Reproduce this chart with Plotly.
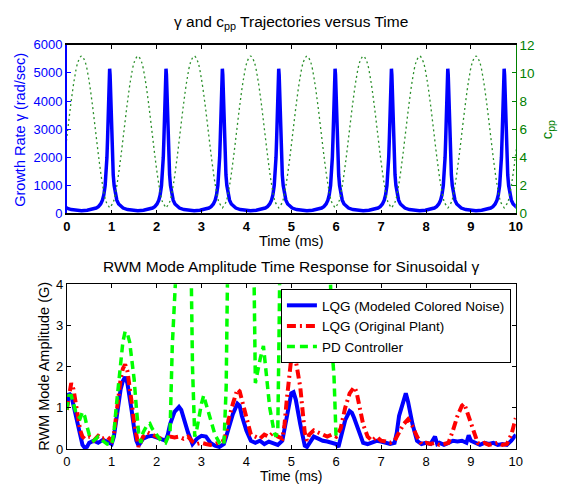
import plotly.graph_objects as go

# ---------------- data ----------------
# Top panel: growth rate gamma (rad/sec) - every peak has the same shape
gamma_peak_times = [-0.3, 0.955, 2.21, 3.465, 4.72, 5.975, 7.23, 8.485, 9.74]
gamma_offsets = [-0.6275, -0.5, -0.4, -0.3, -0.25, -0.2, -0.16, -0.13, -0.1, -0.08,
                 -0.06, -0.045, -0.03, -0.02, -0.01, 0.0, 0.01, 0.02, 0.03, 0.045,
                 0.06, 0.08, 0.1, 0.13, 0.16, 0.2, 0.25, 0.3, 0.4, 0.5, 0.6275]
gamma_profile = [98, 115, 139, 192, 243, 336, 473, 657, 990, 1370,
                 2000, 2720, 3680, 4370, 4930, 5150, 4930, 4370, 3680, 2720,
                 2000, 1370, 990, 657, 473, 336, 243, 192, 139, 115, 98]

# Top panel: c_pp (right axis) - every hump has the same shape
cpp_peak_times = [-0.925, 0.33, 1.585, 2.84, 4.095, 5.35, 6.605, 7.86, 9.115, 10.37]
cpp_offsets = [-0.6275, -0.549, -0.4706, -0.3922, -0.3138, -0.2353, -0.1569, -0.0784, 0.0,
               0.0784, 0.1569, 0.2353, 0.3138, 0.3922, 0.4706, 0.549, 0.6275]
cpp_profile = [0.4, 0.81, 1.98, 3.73, 5.8, 7.87, 9.62, 10.79, 11.2,
               10.79, 9.62, 7.87, 5.8, 3.73, 1.98, 0.81, 0.4]

# Bottom panel: RWM mode amplitude (G)
lqg_noise_t = [0.0, 0.05, 0.1, 0.15, 0.2, 0.25, 0.3, 0.35, 0.4, 0.45, 0.5, 0.6, 0.7, 0.8, 0.9,
               1.0, 1.05, 1.1, 1.15, 1.2, 1.25, 1.3, 1.35, 1.4, 1.45, 1.5, 1.55, 1.6, 1.7, 1.8,
               1.9, 2.0, 2.1, 2.2, 2.25, 2.3, 2.4, 2.5, 2.55, 2.6, 2.7, 2.8, 2.9, 3.0, 3.1,
               3.2, 3.3, 3.4, 3.5, 3.55, 3.6, 3.7, 3.8, 3.85, 3.9, 4.0, 4.1, 4.2, 4.3, 4.4,
               4.5, 4.6, 4.7, 4.8, 4.85, 4.9, 5.0, 5.05, 5.1, 5.2, 5.25, 5.3, 5.35, 5.4, 5.5,
               5.6, 5.7, 5.8, 5.9, 6.0, 6.05, 6.1, 6.2, 6.3, 6.35, 6.4, 6.5, 6.6, 6.7, 6.8,
               6.9, 7.0, 7.1, 7.2, 7.3, 7.35, 7.4, 7.5, 7.55, 7.6, 7.7, 7.8, 7.9, 8.0, 8.1,
               8.2, 8.25, 8.3, 8.4, 8.5, 8.6, 8.7, 8.8, 8.9, 8.95, 9.0, 9.1, 9.2, 9.3, 9.4,
               9.5, 9.6, 9.7, 9.8, 9.9, 10.0]
lqg_noise_v = [1.0, 1.35, 1.3, 1.05, 0.8, 0.55, 0.3, 0.1, 0.03, 0.05, 0.15, 0.2, 0.15, 0.22, 0.18,
               0.12, 0.3, 0.7, 1.1, 1.45, 1.65, 1.75, 1.6, 1.3, 0.9, 0.5, 0.2, 0.08, 0.25, 0.3,
               0.32, 0.28, 0.25, 0.2, 0.35, 0.6, 0.9, 1.02, 0.95, 0.75, 0.4, 0.12, 0.25, 0.32, 0.3,
               0.15, 0.08, 0.05, 0.12, 0.3, 0.5, 0.85, 1.1, 1.05, 0.8, 0.45, 0.2, 0.15, 0.2, 0.12,
               0.18, 0.15, 0.1, 0.2, 0.5, 0.85, 1.35, 1.38, 1.2, 0.6, 0.3, 0.08, 0.05, 0.15, 0.3,
               0.25, 0.2, 0.18, 0.15, 0.12, 0.05, 0.3, 0.7, 0.92, 0.88, 0.75, 0.45, 0.15, 0.12, 0.15,
               0.2, 0.18, 0.15, 0.12, 0.15, 0.4, 0.8, 1.2, 1.35, 1.15, 0.6, 0.2, 0.12, 0.15, 0.12,
               0.3, 0.12, 0.15, 0.1, 0.15, 0.2, 0.18, 0.2, 0.15, 0.33, 0.2, 0.15, 0.1, 0.15, 0.12,
               0.15, 0.1, 0.12, 0.1, 0.2, 0.35]

lqg_plant_t = [0.0, 0.05, 0.1, 0.15, 0.2, 0.25, 0.3, 0.35, 0.4, 0.5, 0.6, 0.7, 0.8, 0.9, 1.0,
               1.05, 1.1, 1.15, 1.2, 1.25, 1.3, 1.35, 1.4, 1.45, 1.5, 1.55, 1.6, 1.7, 1.8, 1.9,
               2.0, 2.1, 2.2, 2.3, 2.4, 2.5, 2.6, 2.7, 2.8, 2.9, 3.0, 3.1, 3.2, 3.3, 3.4,
               3.5, 3.55, 3.6, 3.7, 3.8, 3.85, 3.9, 4.0, 4.1, 4.2, 4.3, 4.4, 4.5, 4.6, 4.7,
               4.8, 4.85, 4.9, 5.0, 5.05, 5.1, 5.2, 5.25, 5.3, 5.35, 5.4, 5.5, 5.6, 5.7, 5.8,
               5.9, 6.0, 6.1, 6.2, 6.3, 6.4, 6.45, 6.5, 6.6, 6.7, 6.8, 6.9, 7.0, 7.1, 7.2,
               7.3, 7.4, 7.5, 7.6, 7.7, 7.8, 7.9, 8.0, 8.1, 8.2, 8.3, 8.4, 8.5, 8.6, 8.7,
               8.8, 8.85, 8.9, 9.0, 9.1, 9.15, 9.2, 9.3, 9.4, 9.5, 9.6, 9.7, 9.8, 9.9, 10.0]
lqg_plant_v = [0.95, 1.3, 1.6, 1.45, 1.1, 0.75, 0.45, 0.3, 0.25, 0.3, 0.2, 0.32, 0.25, 0.3, 0.2,
               0.35, 0.8, 1.3, 1.7, 1.95, 2.05, 1.9, 1.55, 1.1, 0.65, 0.3, 0.05, 0.3, 0.4, 0.35,
               0.3, 0.25, 0.2, 0.3, 0.28, 0.3, 0.25, 0.3, 0.18, 0.12, 0.15, 0.12, 0.1, 0.12, 0.15,
               0.2, 0.4, 0.7, 1.1, 1.45, 1.4, 1.2, 0.8, 0.35, 0.3, 0.25, 0.35, 0.3, 0.4, 0.3,
               0.25, 0.6, 1.2, 2.2, 2.35, 2.15, 1.5, 0.9, 0.4, 0.2, 0.35, 0.45, 0.4, 0.35, 0.3,
               0.35, 0.3, 0.5, 1.0, 1.35, 1.5, 1.4, 1.1, 0.6, 0.3, 0.2, 0.3, 0.2, 0.18, 0.15,
               0.2, 0.4, 0.6, 0.72, 0.55, 0.3, 0.12, 0.15, 0.12, 0.15, 0.1, 0.12, 0.15, 0.45, 0.8,
               1.05, 1.1, 0.95, 0.65, 0.35, 0.15, 0.12, 0.15, 0.1, 0.12, 0.15, 0.1, 0.12, 0.35, 0.75]

pd_t = [0.0, 0.05, 0.1, 0.15, 0.2, 0.25, 0.3, 0.35, 0.4, 0.45, 0.5, 0.6, 0.7, 0.8, 0.9,
        1.0, 1.05, 1.1, 1.15, 1.2, 1.25, 1.3, 1.35, 1.4, 1.45, 1.5, 1.55, 1.6, 1.65, 1.7,
        1.8, 1.85, 1.9, 2.0, 2.1, 2.2, 2.3, 2.35, 2.4, 2.6, 2.75, 2.8, 2.85, 2.9, 3.0,
        3.05, 3.1, 3.2, 3.3, 3.4, 3.5, 3.55, 3.6, 3.9, 4.15, 4.2, 4.25, 4.31, 4.38, 4.42,
        4.46, 4.52, 4.57, 4.62, 4.66, 4.7, 4.73, 4.76, 5.3, 5.84, 5.9, 5.95, 6.0]
pd_v = [0.95, 1.3, 1.3, 1.1, 0.9, 0.8, 0.75, 0.9, 0.8, 0.55, 0.35, 0.2, 0.3, 0.2, 0.12,
        0.1, 0.4, 1.0, 1.6, 2.2, 2.6, 2.85, 2.8, 2.6, 2.2, 1.7, 1.0, 0.4, 0.15, 0.4,
        0.6, 0.62, 0.5, 0.35, 0.2, 0.15, 0.4, 2.5, 6.0, 8.0, 6.0, 2.0, 0.3, 0.5, 1.1,
        1.3, 1.1, 0.7, 0.35, 0.15, 0.1, 1.5, 6.0, 8.0, 6.0, 1.6, 1.9, 2.2, 2.5, 2.1,
        1.6, 1.0, 0.7, 0.4, 0.3, 0.5, 3.0, 6.0, 8.0, 6.0, 2.5, 1.8, 0.2]

x_ticks = [0, 1, 2, 3, 4, 5, 6, 7, 8, 9, 10]

# ---------------- build series from the read values ----------------
gamma_t, gamma_v = [], []
for p in gamma_peak_times:
    for o, v in zip(gamma_offsets, gamma_profile):
        gamma_t.append(p + o)
        gamma_v.append(v)

cpp_t, cpp_v = [], []
for p in cpp_peak_times:
    for o, v in zip(cpp_offsets, cpp_profile):
        cpp_t.append(p + o)
        cpp_v.append(v)

W, H = 564, 488
def px_x(x):
    return x / W
def px_y(y):
    return 1 - y / H

FONT = "Liberation Sans, Arial, Helvetica, sans-serif"
BLUE = "#0000ff"
GREEN_DARK = "#008000"

fig = go.Figure()

fig.add_trace(go.Scatter(x=gamma_t, y=gamma_v, mode="lines", line=dict(color=BLUE, width=3.5),
                         xaxis="x", yaxis="y", showlegend=False))
fig.add_trace(go.Scatter(x=cpp_t, y=cpp_v, mode="lines",
                         line=dict(color="#2a8f2a", width=1.3, dash="2px,3px", shape="spline"),
                         xaxis="x", yaxis="y2", showlegend=False))

fig.add_trace(go.Scatter(x=lqg_noise_t, y=lqg_noise_v, mode="lines", name="LQG (Modeled Colored Noise)",
                         line=dict(color=BLUE, width=4), xaxis="x2", yaxis="y3"))
fig.add_trace(go.Scatter(x=lqg_plant_t, y=lqg_plant_v, mode="lines", name="LQG (Original Plant)",
                         line=dict(color="#ff0000", width=4, dash="9px,4px,2px,4px"), xaxis="x2", yaxis="y3"))
fig.add_trace(go.Scatter(x=pd_t, y=pd_v, mode="lines", name="PD Controller",
                         line=dict(color="#00ff00", width=3.5, dash="8px,5px"), xaxis="x2", yaxis="y3"))

xdom = [px_x(64), px_x(522)]
top_dom = [px_y(213), px_y(39)]
bot_dom = [px_y(456), px_y(286)]

common_x = dict(range=[0, 10], tickvals=x_ticks, ticks="inside", ticklen=4, showgrid=False,
                zeroline=False, showline=True, linecolor="black", tickcolor="black",
                mirror="ticks", domain=xdom)

fig.update_layout(
    width=W, height=H,
    margin=dict(l=0, r=0, t=0, b=0),
    paper_bgcolor="white", plot_bgcolor="white",
    font=dict(family=FONT, size=13, color="black"),
    xaxis=dict(common_x, anchor="y", linewidth=1.5,
               tickfont=dict(size=13, color="black", weight="bold")),
    yaxis=dict(domain=top_dom, range=[0, 6000], dtick=1000, ticks="inside", ticklen=4,
               showgrid=False, zeroline=False, showline=True, linecolor=BLUE, linewidth=1.5,
               tickcolor=BLUE, tickfont=dict(color=BLUE, size=13), anchor="x"),
    yaxis2=dict(overlaying="y", side="right", range=[0, 12], dtick=2, ticks="inside", ticklen=4,
                showgrid=False, zeroline=False, showline=True, linecolor=GREEN_DARK,
                tickcolor=GREEN_DARK, tickfont=dict(color=GREEN_DARK, size=13.5), anchor="x"),
    xaxis2=dict(common_x, anchor="y3", tickfont=dict(size=13, color="black")),
    yaxis3=dict(domain=bot_dom, range=[0, 4], dtick=1, ticks="inside", ticklen=4,
                showgrid=False, zeroline=False, showline=True, linecolor="black",
                tickcolor="black", mirror="ticks", tickfont=dict(size=13, color="black"),
                anchor="x2"),
    legend=dict(x=px_x(517), y=px_y(291), xanchor="right", yanchor="top",
                bgcolor="white", bordercolor="black", borderwidth=1,
                font=dict(size=13.5, family=FONT), itemwidth=30, tracegroupgap=0),
    annotations=[
        dict(text="γ and c<sub>pp</sub> Trajectories versus Time", x=px_x(293), y=px_y(16),
             xref="paper", yref="paper", showarrow=False, font=dict(size=15.5),
             xanchor="center", yanchor="middle"),
        dict(text="Time (ms)", x=px_x(293), y=px_y(241.5), xref="paper", yref="paper",
             showarrow=False, font=dict(size=14.5), xanchor="center", yanchor="middle"),
        dict(text="Growth Rate γ (rad/sec)", x=px_x(16), y=px_y(127), xref="paper", yref="paper",
             showarrow=False, font=dict(size=14.5, color=BLUE), textangle=-90,
             xanchor="center", yanchor="middle"),
        dict(text="c<sub>pp</sub>", x=px_x(554), y=px_y(127), xref="paper", yref="paper",
             showarrow=False, font=dict(size=15, color=GREEN_DARK), textangle=-90,
             xanchor="center", yanchor="middle"),
        dict(text="RWM Mode Amplitude Time Response for Sinusoidal γ", x=px_x(293), y=px_y(268),
             xref="paper", yref="paper", showarrow=False, font=dict(size=15.5),
             xanchor="center", yanchor="middle"),
        dict(text="Time (ms)", x=px_x(293), y=px_y(483.5), xref="paper", yref="paper",
             showarrow=False, font=dict(size=14), xanchor="center", yanchor="middle"),
        dict(text="RWM Mode Amplitude (G)", x=px_x(40), y=px_y(371), xref="paper", yref="paper",
             showarrow=False, font=dict(size=14.5), textangle=-90,
             xanchor="center", yanchor="middle"),
    ],
)

fig.write_html("out.html", config={"displayModeBar": False},
               post_script="document.body.style.margin='0';document.body.style.overflow='hidden';")
